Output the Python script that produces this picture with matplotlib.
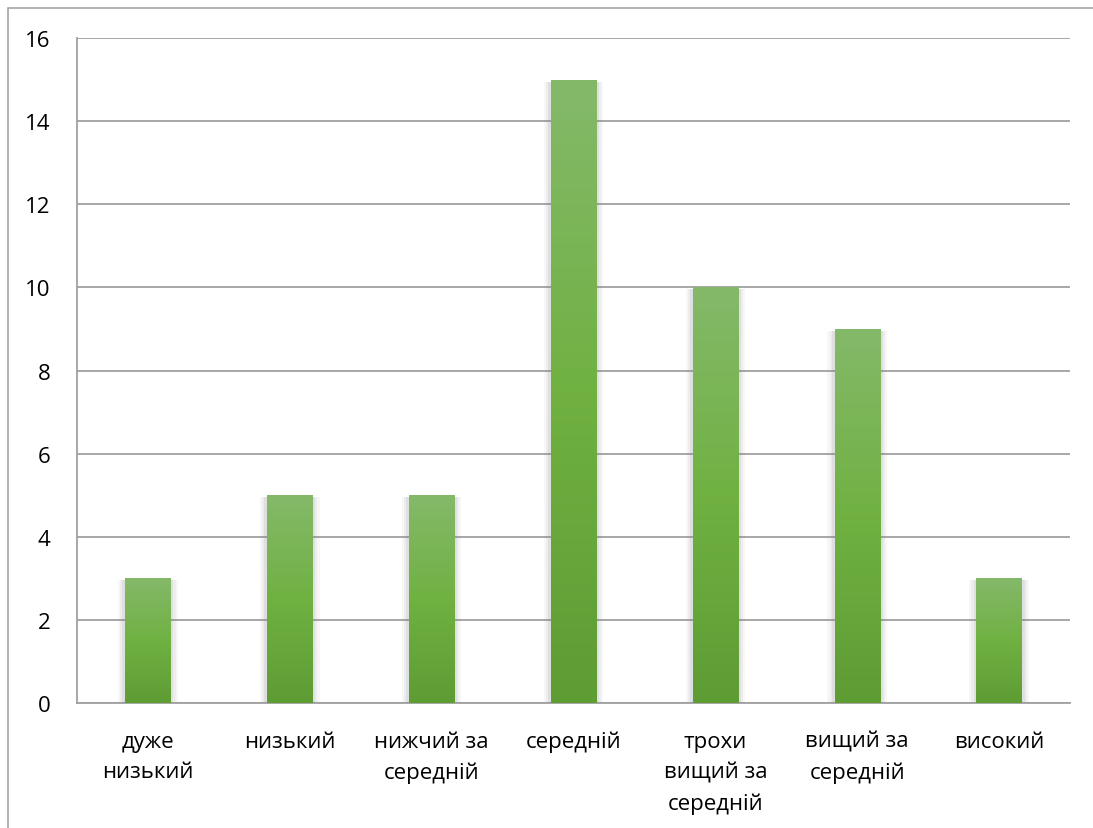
import numpy as np
import matplotlib
matplotlib.use("Agg")
import matplotlib.pyplot as plt
from matplotlib.patches import Rectangle
from matplotlib.colors import LinearSegmentedColormap

categories = ["дуже\nнизький", "низький", "нижчий за\nсередній", "середній",
              "трохи\nвищий за\nсередній", "вищий за\nсередній", "високий"]
values = [3, 5, 5, 15, 10, 9, 3]
yticks = [0, 2, 4, 6, 8, 10, 12, 14, 16]

plt.rcParams['font.family'] = ['Open Sans', 'DejaVu Sans']

W, H = 1093, 829
fig = plt.figure(figsize=(W / 100, H / 100), dpi=100)
ax = fig.add_axes([77 / W, 1 - 704 / H, (1070 - 77) / W, (704 - 39) / H])

# figure border (chart area)
fig.patches.append(Rectangle((8 / W, -0.1), 1.2, 1 - 9 / H + 0.1, transform=fig.transFigure,
                             fill=False, edgecolor='#a6a6a6', linewidth=1.2, zorder=0))

x = np.arange(len(categories))
width = 0.32
cmap = LinearSegmentedColormap.from_list('g', ['#5e9c34', '#70b142', '#84b96a'])

# soft shadow on the sides
for k, a in [(0.05, 0.06), (0.035, 0.08), (0.02, 0.12)]:
    ax.bar(x, [v - 0.05 for v in values], width=width + 2 * k, bottom=0, color='#808080',
           alpha=a, zorder=2, linewidth=0)

bars = ax.bar(x, values, width=width, color='#70b142', zorder=3, linewidth=0)
grad = np.linspace(0, 1, 256).reshape(-1, 1)
for b in bars:
    x0, y0 = b.get_x(), b.get_y()
    w, h = b.get_width(), b.get_height()
    im = ax.imshow(grad, cmap=cmap, extent=[x0, x0 + w, y0, y0 + h], origin='lower',
                   aspect='auto', zorder=4, interpolation='bilinear')
    im.set_clip_path(b)

ax.set_xlim(-0.5, len(categories) - 0.5)
ax.set_ylim(0, 16)
ax.set_yticks(yticks)
ax.set_yticklabels([str(v) for v in yticks])
ax.set_xticks(x)
ax.set_xticklabels(categories, linespacing=1.6)
ax.yaxis.grid(True, color='#a0a0a0', linewidth=1.3)
ax.set_axisbelow(True)
ax.tick_params(axis='both', length=0, labelsize=16, colors='#000000')
ax.tick_params(axis='y', pad=19)
ax.tick_params(axis='x', pad=20)
for s in ['top', 'right']:
    ax.spines[s].set_visible(False)
for s in ['left', 'bottom']:
    ax.spines[s].set_color('#a0a0a0')
    ax.spines[s].set_linewidth(1.3)

fig.savefig('out.png', dpi=100)
